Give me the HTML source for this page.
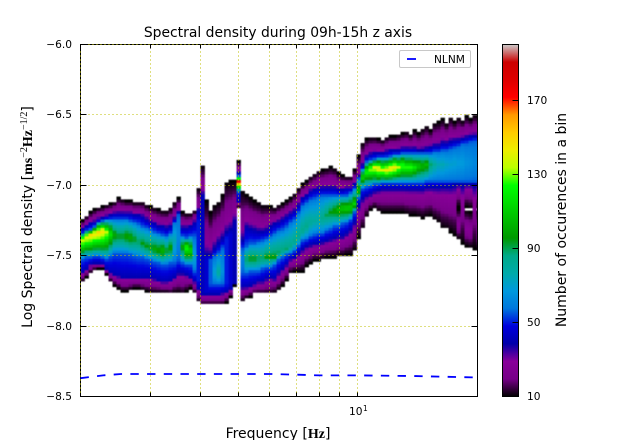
<!DOCTYPE html>
<html>
<head>
<meta charset="utf-8">
<title>Spectral density during 09h-15h z axis</title>
<style>
html,body{margin:0;padding:0;background:#fff;}
svg{display:block;}
text{font-family:"DejaVu Sans","Liberation Sans",sans-serif;fill:#000;}
.serif{font-family:"Liberation Serif","DejaVu Serif",serif;font-weight:bold;}
</style>
</head>
<body>
<svg id="chart" width="640" height="440" viewBox="0 0 640 440" xmlns="http://www.w3.org/2000/svg">
  <defs>
    <linearGradient id="cbar-gradient" x1="0" y1="1" x2="0" y2="0"></linearGradient>
    <clipPath id="plot-clip"><rect x="80" y="44" width="398" height="353"/></clipPath>
    <filter id="soften" x="-2%" y="-2%" width="104%" height="104%" color-interpolation-filters="sRGB"><feGaussianBlur stdDeviation="0.6"/></filter>
  </defs>
  <rect x="0" y="0" width="640" height="440" fill="#fff"/>
  <g clip-path="url(#plot-clip)">
    <g id="heatmap" filter="url(#soften)"></g>
  </g>
  <rect x="80.5" y="44.5" width="397" height="352" fill="none" stroke="#000" stroke-width="1"/>
  <g id="grid"></g>
  <path d="M80.5 396.5H477.5V44.5" fill="none" stroke="#000" stroke-width="1"/>
  <path id="nlnm-line" fill="none" stroke="#0000ff" stroke-width="1.8" stroke-dasharray="8.4 8.3"/>
  <g id="ticks"></g>
  <g id="tick-labels" font-size="10.6"></g>
  <text x="278" y="37" text-anchor="middle" font-size="13.9">Spectral density during 09h-15h z axis</text>
  <text x="278" y="438" text-anchor="middle" font-size="14">Frequency [<tspan class="serif">Hz</tspan>]</text>
  <text transform="translate(32,217) rotate(-90)" text-anchor="middle" font-size="14">Log Spectral density [<tspan class="serif">ms</tspan><tspan dy="-5" font-size="10" font-family="Liberation Serif">−2</tspan><tspan class="serif" dy="5">Hz</tspan><tspan dy="-5" font-size="10" font-family="Liberation Serif">−1/2</tspan><tspan dy="5">]</tspan></text>
  <g>
    <rect x="399.5" y="50.5" width="71" height="17" rx="1.5" fill="#fff" stroke="#c8c8c8" stroke-width="1"/>
    <line x1="407" y1="59" x2="416" y2="59" stroke="#0000ff" stroke-width="1.8"/>
    <text x="434" y="63" font-size="10.6">NLNM</text>
  </g>
  <rect x="502.5" y="44.5" width="16" height="352" fill="url(#cbar-gradient)" stroke="#000" stroke-width="1"/>
  <g id="cbar-ticks" font-size="10.6"></g>
  <text transform="translate(566,220) rotate(-90)" text-anchor="middle" font-size="14">Number of occurences in a bin</text>
</svg>
<script>
// Frequency bins (Hz)
const freqs = [2.000,2.047,2.095,2.144,2.194,2.246,2.299,2.353,2.408,2.464,2.522,2.582,2.642,2.704,2.768,2.833,2.899,2.967,3.037,3.108,3.181,3.256,3.332,3.410,3.490,3.572,3.656,3.742,3.830,3.920,4.012,4.106,4.203,4.301,4.402,4.506,4.611,4.720,4.831,4.944,5.060,5.179,5.301,5.425,5.552,5.683,5.816,5.953,6.093,6.236,6.382,6.532,6.685,6.842,7.003,7.167,7.336,7.508,7.684,7.864,8.049,8.238,8.431,8.629,8.832,9.039,9.251,9.469,9.691,9.919,10.15,10.39,10.63,10.88,11.14,11.40,11.67,11.94,12.22,12.51,12.80,13.10,13.41,13.72,14.05,14.38,14.71,15.06,15.41,15.77,16.14,16.52,16.91,17.31,17.71,18.13,18.55,18.99,19.44,19.89];
// Upper edge of the occupied region, per bin (log density)
const edgeTop = [-7.25,-7.22,-7.19,-7.17,-7.16,-7.15,-7.14,-7.13,-7.12,-7.09,-7.10,-7.11,-7.11,-7.12,-7.12,-7.12,-7.14,-7.15,-7.16,-7.17,-7.18,-7.18,-7.16,-7.12,-7.09,-7.19,-7.20,-7.20,-7.18,-7.02,-6.86,-7.11,-7.19,-7.14,-7.12,-7.07,-6.98,-6.97,-6.97,-6.83,-7.04,-7.07,-7.09,-7.11,-7.12,-7.14,-7.14,-7.15,-7.16,-7.14,-7.13,-7.11,-7.09,-7.06,-7.02,-6.99,-6.97,-6.94,-6.92,-6.90,-6.89,-6.88,-6.87,-6.88,-6.91,-6.93,-6.94,-6.94,-6.89,-6.79,-6.70,-6.67,-6.66,-6.66,-6.67,-6.68,-6.66,-6.65,-6.65,-6.64,-6.63,-6.62,-6.64,-6.61,-6.63,-6.60,-6.58,-6.61,-6.56,-6.55,-6.53,-6.56,-6.52,-6.55,-6.52,-6.54,-6.51,-6.53,-6.50,-6.51];
// Upper boundary of the dark blue band, per bin
const blueTop = [-7.31,-7.29,-7.27,-7.26,-7.24,-7.23,-7.22,-7.21,-7.20,-7.20,-7.20,-7.20,-7.20,-7.21,-7.21,-7.22,-7.24,-7.26,-7.27,-7.29,-7.29,-7.30,-7.29,-7.24,-7.19,-7.30,-7.30,-7.29,-7.26,-7.18,-7.07,-7.50,-7.50,-7.45,-7.41,-7.38,-7.34,-7.32,-7.26,-6.91,-7.39,-7.30,-7.31,-7.32,-7.33,-7.33,-7.32,-7.29,-7.27,-7.26,-7.24,-7.22,-7.20,-7.18,-7.14,-7.09,-7.07,-7.04,-7.03,-7.02,-7.02,-7.02,-7.02,-7.02,-7.03,-7.03,-7.02,-7.02,-6.99,-6.94,-6.86,-6.80,-6.78,-6.77,-6.77,-6.77,-6.76,-6.75,-6.75,-6.75,-6.74,-6.74,-6.74,-6.74,-6.75,-6.75,-6.74,-6.73,-6.72,-6.72,-6.70,-6.70,-6.69,-6.68,-6.68,-6.67,-6.66,-6.65,-6.65,-6.65];
// Upper boundary of the light blue band, per bin
const lightTop = [-7.34,-7.32,-7.31,-7.29,-7.26,-7.25,-7.24,-7.24,-7.24,-7.24,-7.24,-7.24,-7.25,-7.26,-7.27,-7.29,-7.30,-7.31,-7.33,-7.34,-7.35,-7.36,-7.34,-7.26,-7.21,-7.36,-7.37,-7.36,-7.36,-7.29,-7.11,-7.52,-7.52,-7.50,-7.48,-7.44,-7.39,-7.38,-7.36,-6.93,-7.45,-7.43,-7.41,-7.41,-7.40,-7.39,-7.38,-7.36,-7.34,-7.32,-7.31,-7.29,-7.26,-7.24,-7.19,-7.14,-7.12,-7.10,-7.09,-7.08,-7.07,-7.07,-7.07,-7.07,-7.07,-7.07,-7.07,-7.05,-7.02,-6.95,-6.88,-6.83,-6.82,-6.81,-6.80,-6.80,-6.80,-6.79,-6.78,-6.78,-6.77,-6.77,-6.77,-6.77,-6.77,-6.77,-6.77,-6.77,-6.76,-6.76,-6.75,-6.75,-6.74,-6.73,-6.72,-6.70,-6.70,-6.69,-6.68,-6.68];
// Density of the most populated bin, per frequency
const ridge = [-7.38,-7.36,-7.35,-7.34,-7.33,-7.32,-7.33,-7.34,-7.35,-7.36,-7.36,-7.36,-7.37,-7.38,-7.40,-7.41,-7.43,-7.44,-7.45,-7.46,-7.46,-7.46,-7.44,-7.39,-7.36,-7.43,-7.44,-7.46,-7.52,-7.46,-7.39,-7.55,-7.58,-7.62,-7.62,-7.61,-7.56,-7.55,-7.46,-6.97,-7.52,-7.52,-7.52,-7.52,-7.52,-7.52,-7.51,-7.51,-7.51,-7.48,-7.46,-7.45,-7.43,-7.40,-7.36,-7.32,-7.29,-7.26,-7.25,-7.24,-7.23,-7.21,-7.19,-7.18,-7.17,-7.16,-7.16,-7.16,-7.13,-7.04,-6.94,-6.90,-6.88,-6.87,-6.88,-6.89,-6.89,-6.88,-6.87,-6.87,-6.86,-6.87,-6.87,-6.87,-6.86,-6.86,-6.85,-6.85,-6.85,-6.85,-6.85,-6.85,-6.85,-6.84,-6.84,-6.84,-6.84,-6.84,-6.84,-6.84];
// Occurrence count along that ridge
const peakCount = [142,146,148,148,150,148,135,118,100,95,95,100,100,95,90,95,95,95,100,100,105,95,100,75,62,100,125,115,70,50,42,45,55,70,80,65,50,45,40,175,60,90,95,95,90,90,95,95,95,90,88,88,85,85,85,85,85,82,80,80,85,90,95,100,105,110,112,112,112,110,115,125,135,142,145,140,145,148,145,135,130,125,125,118,110,105,105,88,80,75,75,72,70,70,68,68,65,64,62,62];
// Lower boundary of the light blue band, per bin
const lightBottom = [-7.52,-7.51,-7.51,-7.50,-7.50,-7.51,-7.52,-7.50,-7.48,-7.48,-7.48,-7.48,-7.49,-7.50,-7.51,-7.51,-7.52,-7.53,-7.54,-7.55,-7.56,-7.56,-7.55,-7.55,-7.53,-7.55,-7.56,-7.56,-7.61,-7.64,-7.66,-7.70,-7.70,-7.70,-7.70,-7.70,-7.68,-7.64,-7.57,-7.04,-7.62,-7.62,-7.61,-7.61,-7.61,-7.59,-7.58,-7.58,-7.56,-7.53,-7.51,-7.49,-7.48,-7.46,-7.43,-7.39,-7.38,-7.36,-7.35,-7.34,-7.34,-7.32,-7.31,-7.29,-7.29,-7.27,-7.26,-7.24,-7.19,-7.09,-7.02,-7.01,-7.00,-6.99,-6.99,-6.98,-6.98,-6.98,-6.98,-6.98,-6.98,-6.98,-6.98,-6.98,-6.98,-6.98,-6.97,-6.97,-6.97,-6.97,-6.97,-6.97,-6.97,-6.97,-6.97,-6.97,-6.97,-6.97,-6.97,-6.97];
// Lower boundary of the dark blue band, per bin
const blueBottom = [-7.61,-7.59,-7.56,-7.55,-7.55,-7.56,-7.59,-7.62,-7.63,-7.64,-7.65,-7.65,-7.65,-7.65,-7.65,-7.65,-7.65,-7.65,-7.66,-7.67,-7.68,-7.68,-7.67,-7.65,-7.62,-7.62,-7.63,-7.65,-7.68,-7.73,-7.77,-7.77,-7.77,-7.77,-7.77,-7.76,-7.75,-7.73,-7.69,-7.11,-7.72,-7.72,-7.71,-7.70,-7.68,-7.68,-7.66,-7.65,-7.66,-7.62,-7.59,-7.56,-7.52,-7.51,-7.48,-7.45,-7.43,-7.42,-7.41,-7.41,-7.40,-7.39,-7.38,-7.37,-7.36,-7.36,-7.34,-7.31,-7.26,-7.14,-7.09,-7.07,-7.06,-7.04,-7.03,-7.02,-7.02,-7.02,-7.02,-7.02,-7.02,-7.02,-7.02,-7.02,-7.02,-7.02,-7.01,-7.01,-7.01,-7.01,-7.00,-7.00,-7.00,-6.99,-6.99,-6.99,-6.99,-6.99,-6.99,-6.99];
// Lower edge of the occupied region, per bin
const edgeBottom = [-7.68,-7.65,-7.62,-7.60,-7.59,-7.59,-7.63,-7.68,-7.71,-7.73,-7.75,-7.75,-7.74,-7.73,-7.73,-7.74,-7.75,-7.76,-7.76,-7.76,-7.76,-7.76,-7.77,-7.76,-7.76,-7.77,-7.75,-7.73,-7.76,-7.82,-7.85,-7.85,-7.85,-7.85,-7.85,-7.85,-7.83,-7.79,-7.71,-7.16,-7.82,-7.80,-7.79,-7.77,-7.77,-7.77,-7.77,-7.77,-7.76,-7.74,-7.71,-7.67,-7.62,-7.61,-7.61,-7.61,-7.57,-7.55,-7.53,-7.53,-7.52,-7.51,-7.51,-7.51,-7.50,-7.50,-7.49,-7.49,-7.46,-7.37,-7.31,-7.22,-7.17,-7.16,-7.18,-7.19,-7.19,-7.19,-7.19,-7.19,-7.19,-7.20,-7.21,-7.21,-7.22,-7.23,-7.22,-7.21,-7.24,-7.26,-7.30,-7.31,-7.33,-7.35,-7.38,-7.41,-7.43,-7.44,-7.45,-7.46];
// Empty gap separating the lower tail at high frequency (bin index, gap limits)
const gapBins = [94, 96, 97, 99];
const gapUpper = [-7.15, -7.15, -7.16, -7.15];
const gapLower = [-7.17, -7.18, -7.19, -7.19];
// NLNM reference curve
const nlnmFreqs = [2, 2.28, 2.53, 3, 4, 5, 6, 7, 8, 10, 14, 20];
const nlnmValues = [-8.37, -8.35, -8.34, -8.34, -8.34, -8.34, -8.34, -8.345, -8.35, -8.35, -8.355, -8.365];
// Axis ticks
const xTickValues = [2, 3, 4, 5, 6, 7, 8, 9, 10, 20];
const yTickValues = [-6.0, -6.5, -7.0, -7.5, -8.0, -8.5];
const yTickLabels = ["−6.0", "−6.5", "−7.0", "−7.5", "−8.0", "−8.5"];
const cbarTickValues = [10, 50, 90, 130, 170];
const cbarTickLabels = ["10", "50", "90", "130", "170"];

const XMIN = 2, XMAX = 20, YMIN = -8.5, YMAX = -6, CMIN = 10, CMAX = 200;
const PX0 = 80.5, PX1 = 477.5, PY0 = 396.5, PY1 = 44.5;
const ROW_STEP = 0.02;
const NS = 'http://www.w3.org/2000/svg';

function xScale(f){ return PX0 + (Math.log10(f) - Math.log10(XMIN)) / (Math.log10(XMAX) - Math.log10(XMIN)) * (PX1 - PX0); }
function yScale(v){ return PY0 + (v - YMIN) / (YMAX - YMIN) * (PY1 - PY0); }
function cScale(c){ return PY0 + (c - CMIN) / (CMAX - CMIN) * (PY1 - PY0); }

// nipy_spectral colormap
const cmap = [[0,0,0],[.4667,0,.5333],[.5333,0,.6],[0,0,.6667],[0,0,.8667],[0,.4667,.8667],[0,.6,.8667],[0,.6667,.6667],[0,.6667,.5333],[0,.6,0],[0,.7333,0],[0,.8667,0],[0,1,0],[.7333,1,0],[.9333,.9333,0],[1,.8,0],[1,.6,0],[1,0,0],[.8667,0,0],[.8,0,0],[.8,.8,.8]];
function colorFor(t){
  t = Math.max(0, Math.min(1, t));
  const p = t * (cmap.length - 1), k = Math.min(cmap.length - 2, Math.floor(p)), u = p - k;
  const c = [0,1,2].map(j => Math.round(255 * (cmap[k][j] + (cmap[k+1][j] - cmap[k][j]) * u)));
  return 'rgb(' + c.join(',') + ')';
}

function make(tag, parent, attrs){
  const el = document.createElementNS(NS, tag);
  for (const k in attrs) el.setAttribute(k, attrs[k]);
  parent.appendChild(el);
  return el;
}

// Count at density v within a bin, using the bin's levels
function flank(t){
  if (t < 0.25) return 10 + t / 0.25 * 5;
  if (t < 0.4) return 15 + (t - 0.25) / 0.15 * 5;
  if (t < 0.8) return 20 + (t - 0.4) / 0.4 * 9;
  return 29 + (t - 0.8) / 0.2 * 11;
}
function countAt(i, v){
  const top = edgeTop[i], bt = blueTop[i], lt = lightTop[i], r = ridge[i], lb = lightBottom[i], bb = blueBottom[i], bot = edgeBottom[i], pk = peakCount[i];
  if (v > top || v < bot) return null;
  const g = gapBins.indexOf(i);
  if (g >= 0) {
    const gu = gapUpper[g], gl = gapLower[g];
    if (v < gu && v > gl) return null;
    if (v <= gl) return flank(0.75 * Math.min(gl - v, v - bot) / ((gl - bot) / 2));
    if (v < bb) return flank((v - gu) / (bb - gu));
  }
  if (v > bt) return flank((top - v) / (top - bt));
  if (v < bb) return flank((v - bot) / (bb - bot));
  if (v > lt) return Math.min(pk, 40 + 15 * (bt - v) / (bt - lt));
  if (v < lb) return Math.min(pk, 40 + 15 * (v - bb) / (lb - bb));
  if (pk <= 55) return pk;
  if (v > r) return 55 + (pk - 55) * Math.pow((lt - v) / (lt - r), 0.8);
  return 55 + (pk - 55) * Math.pow((v - lb) / (r - lb), 0.8);
}

// Heatmap
const heatmap = document.getElementById('heatmap');
const rowCount = Math.round((YMAX - YMIN) / ROW_STEP);
freqs.forEach(function(f, i){
  const x0 = xScale(f);
  const x1 = i + 1 < freqs.length ? xScale(freqs[i + 1]) : xScale(XMAX);
  for (let r = 0; r < rowCount; r++) {
    const low = YMIN + r * ROW_STEP;
    const c = countAt(i, low + ROW_STEP / 2);
    if (c === null) continue;
    const cell = make('rect', heatmap, {
      x: x0.toFixed(2),
      y: yScale(low + ROW_STEP).toFixed(2),
      width: (x1 - x0 + 0.4).toFixed(2),
      height: (yScale(low) - yScale(low + ROW_STEP) + 0.4).toFixed(2),
      fill: colorFor((c - CMIN) / (CMAX - CMIN))
    });
    
    
  }
});

// Grid, ticks and labels
const grid = document.getElementById('grid');
const ticks = document.getElementById('ticks');
const labels = document.getElementById('tick-labels');
xTickValues.forEach(function(f){
  const x = Math.round(xScale(f) - 0.5) + 0.5;
  const g = make('line', grid, {x1:x, y1:PY0, x2:x, y2:PY1, stroke:'#bfbf00', 'stroke-width':1, 'stroke-dasharray':'1 3'});
  
  
  const tb = make('line', ticks, {x1:x, y1:PY0, x2:x, y2:PY0 - 4, stroke:'#000', 'stroke-width':1});
  
  
  const tt = make('line', ticks, {x1:x, y1:PY1, x2:x, y2:PY1 + 4, stroke:'#000', 'stroke-width':1});
  
  
});
yTickValues.forEach(function(v, i){
  const y = Math.round(yScale(v) - 0.5) + 0.5;
  const g = make('line', grid, {x1:PX0, y1:y, x2:PX1, y2:y, stroke:'#bfbf00', 'stroke-width':1, 'stroke-dasharray':'1 3'});
  
  
  const tl = make('line', ticks, {x1:PX0, y1:y, x2:PX0 + 6, y2:y, stroke:'#000', 'stroke-width':1});
  
  
  const tr = make('line', ticks, {x1:PX1, y1:y, x2:PX1 - 6, y2:y, stroke:'#000', 'stroke-width':1});
  
  
  const t = make('text', labels, {x:72, y:y + 3.5, 'text-anchor':'end'});
  t.textContent = yTickLabels[i];
  
  
});
// Major x label
const xMajorLabel = make('text', labels, {x:xScale(10) - 9, y:415});
xMajorLabel.textContent = '10';


const xMajorExp = make('text', labels, {x:xScale(10) + 5, y:411, 'font-size':'7.5'});
xMajorExp.textContent = '1';



// NLNM line
document.getElementById('nlnm-line').setAttribute('d', nlnmFreqs.map(function(f, i){
  return (i ? 'L' : 'M') + xScale(f).toFixed(2) + ' ' + yScale(nlnmValues[i]).toFixed(2);
}).join(' '));

// Colorbar
const grad = document.getElementById('cbar-gradient');
cmap.forEach(function(c, i){
  const t = i / (cmap.length - 1);
  make('stop', grad, {offset:t, 'stop-color':colorFor(t)});
});
const cbarTicks = document.getElementById('cbar-ticks');
cbarTickValues.forEach(function(c, i){
  const y = Math.round(cScale(c) - 0.5) + 0.5;
  if (i > 0) {
    const tk = make('line', cbarTicks, {x1:512.5, y1:y, x2:519, y2:y, stroke:'#000', 'stroke-width':1});
    
    
  }
  const t = make('text', cbarTicks, {x:527, y:y + 3.5});
  t.textContent = cbarTickLabels[i];
  
  
});
</script>
</body>
</html>
